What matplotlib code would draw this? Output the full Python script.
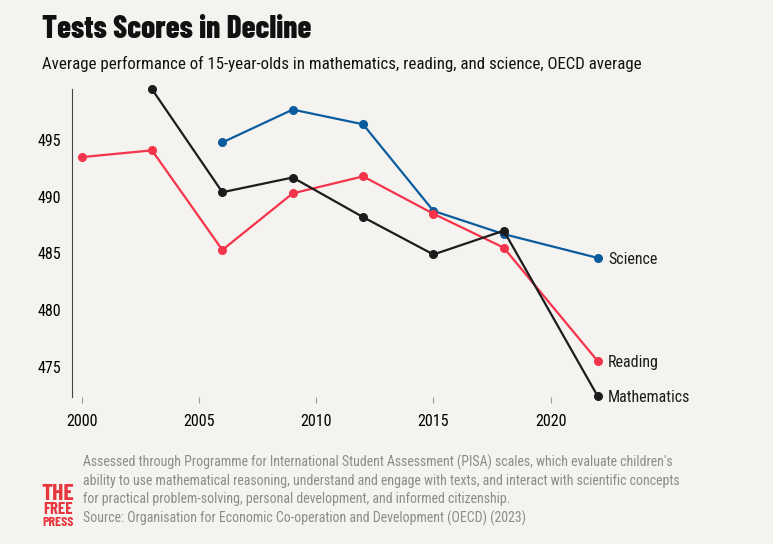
import matplotlib.pyplot as plt

years_math = [2003, 2006, 2009, 2012, 2015, 2018, 2022]
math = [499.5, 490.4, 491.7, 488.2, 484.9, 487.0, 472.4]

years_read = [2000, 2003, 2006, 2009, 2012, 2015, 2018, 2022]
reading = [493.5, 494.1, 485.3, 490.3, 491.8, 488.5, 485.5, 475.5]

years_sci = [2006, 2009, 2012, 2015, 2018, 2022]
science = [494.8, 497.7, 496.4, 488.75, 486.7, 484.6]

bg = '#f5f3ef'
body = ['Roboto Condensed', 'DejaVu Sans']
heavy = ['Barlow Condensed', 'DejaVu Sans']
plt.rcParams['font.family'] = body

fig = plt.figure(figsize=(7.73, 5.44), dpi=100, facecolor=bg)
ax = fig.add_axes([0.0935, 0.270, 0.81, 0.566], facecolor=bg)

series = [
    (years_sci, science, '#0b5c9e', 'Science'),
    (years_read, reading, '#f5334b', 'Reading'),
    (years_math, math, '#1c1c1c', 'Mathematics'),
]
for xs, ys, c, name in series:
    ax.plot(xs, ys, color=c, lw=1.6, marker='o', ms=5.5, clip_on=False, zorder=3)
    ax.annotate(name, (xs[-1], ys[-1]), xytext=(7.5, -1), textcoords='offset points',
                va='center', ha='left', fontsize=11.5, color='#1c1c1c')

ax.set_xlim(1999.6, 2026.3)
ax.set_ylim(472.3, 499.5)
ax.set_xticks([2000, 2005, 2010, 2015, 2020])
ax.set_yticks([475, 480, 485, 490, 495])
for s in ['top', 'right', 'bottom']:
    ax.spines[s].set_visible(False)
ax.spines['left'].set_color('#444444')
ax.tick_params(axis='y', length=0, labelsize=11.5, pad=8)
ax.tick_params(axis='x', length=4, color='#999999', labelsize=11.5, pad=8)

fig.text(0.054, 0.945, 'Tests Scores in Decline', fontsize=22.5, fontweight=800,
         family=heavy, color='#111111', va='center')
fig.text(0.054, 0.883, 'Average performance of 15-year-olds in mathematics, reading, and science, OECD average',
         fontsize=12.2, color='#111111', va='center')

notes = ["Assessed through Programme for International Student Assessment (PISA) scales, which evaluate children's",
         "ability to use mathematical reasoning, understand and engage with texts, and interact with scientific concepts",
         "for practical problem-solving, personal development, and informed citizenship.",
         "Source: Organisation for Economic Co-operation and Development (OECD) (2023)"]
for i, line in enumerate(notes):
    fig.text(0.107, 1 - (462 + i * 18.7) / 544, line, fontsize=10, color='#8c8c8c', va='center')

logo = ['THE', 'FREE', 'PRESS']
for i, (word, sz) in enumerate(zip(logo, [17, 12, 10])):
    yy = [494, 510, 522][i]
    fig.text(0.075, 1 - yy / 544, word, fontsize=sz, fontweight=700, family=heavy,
             color='#e8363f', ha='center', va='center')

fig.savefig('out.png', dpi=100, facecolor=bg)
